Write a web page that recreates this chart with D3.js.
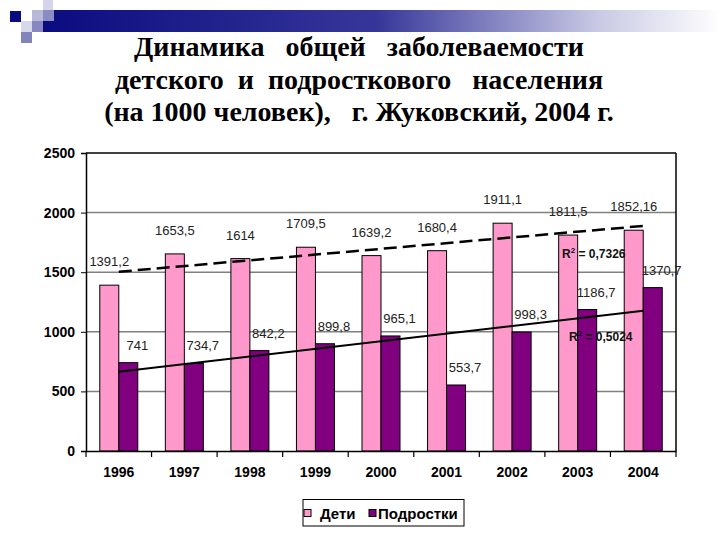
<!DOCTYPE html>
<html><head><meta charset="utf-8">
<script src="https://cdn.jsdelivr.net/npm/d3@7"></script>
<style>body{margin:0;background:#fff}svg{display:block}
.ttl{font-family:"Liberation Serif","Times New Roman",Times,serif;font-weight:bold;font-size:28px;white-space:pre}
</style>
</head><body>
<script>
const titleLines = ["Динамика   общей   заболеваемости", "детского  и  подросткового   населения", "(на 1000 человек),   г. Жуковский, 2004 г."];
const years = ["1996","1997","1998","1999","2000","2001","2002","2003","2004"];
const seriesNames = ["Дети","Подростки"];
const children = [1391.2,1653.5,1614,1709.5,1639.2,1680.4,1911.1,1811.5,1852.16];
const teens = [741,734.7,842.2,899.8,965.1,553.7,998.3,1186.7,1370.7];
const yTicks = [0,500,1000,1500,2000,2500];
const r2Labels = ["0,7326","0,5024"];
const colors = ["#FF99CC","#800080"];

const W=720,H=540;
const svg=d3.select("body").append("svg").attr("width",W).attr("height",H);

// decoration
const defs=svg.append("defs");
const grad=defs.append("linearGradient").attr("id","bar").attr("x1","0").attr("x2","1");
grad.append("stop").attr("offset","0").attr("stop-color","#0a0a80");
grad.append("stop").attr("offset","0.5").attr("stop-color","#36369a");
grad.append("stop").attr("offset","0.82").attr("stop-color","#c8c8e4");
grad.append("stop").attr("offset","1").attr("stop-color","#ffffff");
svg.append("rect").attr("x",33).attr("y",10).attr("width",687).attr("height",22).attr("fill","url(#bar)");
const sq=[[10,11,11,"#0a0a80"],[32,10,11,"#b8b8d8"],[43,0,10,"#d4d4ea"],[43,10,11,"#8c8cc4"],[21,21,11,"#d8d8ec"],[32,21,11,"#8888c0"],[21,32,11,"#8484bc"]];
sq.forEach(s=>svg.append("rect").attr("x",s[0]).attr("y",s[1]).attr("width",s[2]).attr("height",s[2]).attr("fill",s[3]));

// title
const tg=svg.append("g");
titleLines.forEach((t,i)=>tg.append("text").attr("class","ttl").attr("x",359).attr("y",56+i*32.5).attr("text-anchor","middle")
  .attr("font-family","Liberation Serif").attr("xml:space","preserve").text(t));

const L=86,R=676,T=153,B=451;
const x=d3.scaleBand().domain(years).range([L,R]);
const sub=d3.scaleBand().domain(seriesNames).range([-19,19]);
const y=d3.scaleLinear().domain([0,2500]).range([B,T]);

// gridlines
svg.append("g").selectAll("line").data(yTicks.filter(v=>v>0&&v<2500)).join("line")
  .attr("x1",L).attr("x2",R).attr("y1",d=>y(d)).attr("y2",d=>y(d)).attr("stroke","#808080").attr("stroke-width",1.5);
svg.append("line").attr("x1",L).attr("x2",R).attr("y1",T).attr("y2",T).attr("stroke","#000").attr("stroke-width",1.5);
svg.append("line").attr("x1",R).attr("x2",R).attr("y1",T).attr("y2",B).attr("stroke","#000").attr("stroke-width",1.5);

// bars
const data=[children,teens];
data.forEach((arr,si)=>{
  svg.append("g").selectAll("rect").data(arr).join("rect")
    .attr("x",(d,i)=>x(years[i])+x.bandwidth()/2+sub(seriesNames[si]))
    .attr("y",d=>y(d)).attr("width",sub.bandwidth()).attr("height",d=>B-y(d))
    .attr("fill",colors[si]).attr("stroke","#000").attr("stroke-width",1);
});

// axes
const lf="'Liberation Sans',Arial,sans-serif";
const yAxis=d3.axisLeft(y).tickValues(yTicks).tickSize(5).tickPadding(6).tickFormat(d3.format("d"));
const gy=svg.append("g").attr("transform",`translate(${L},0)`).call(yAxis);
gy.select(".domain").attr("stroke-width",1.5);
gy.selectAll("text").style("font-family",lf).style("font-weight","bold").style("font-size","14px").attr("fill","#000");
const xAxis=d3.axisBottom(x).tickSize(0).tickPadding(16);
const gx=svg.append("g").attr("transform",`translate(0,${B})`).call(xAxis);
gx.select(".domain").attr("stroke-width",1.5);
gx.selectAll("text").style("font-family",lf).style("font-weight","bold").style("font-size","14px").attr("fill","#000");
svg.append("g").selectAll("line").data(years.concat(["end"])).join("line")
  .attr("x1",(d,i)=>L+i*x.step()).attr("x2",(d,i)=>L+i*x.step()).attr("y1",B).attr("y2",B+6).attr("stroke","#000").attr("stroke-width",1.2);

// trend lines (least squares)
function fit(arr){const xs=arr.map((d,i)=>i+1);const mx=d3.mean(xs),my=d3.mean(arr);
  const sxy=d3.sum(arr,(d,i)=>(xs[i]-mx)*(d-my)),sxx=d3.sum(xs,v=>(v-mx)*(v-mx));const b=sxy/sxx;return i=>my+b*(i+1-mx);}
const line=d3.line().x(d=>x(d[0])+x.bandwidth()/2).y(d=>y(d[1]));
const f0=fit(children),f1=fit(teens);
svg.append("path").attr("d",line([[years[0],f0(0)],[years[8],f0(8)]])).attr("stroke","#000").attr("stroke-width",2.5).attr("stroke-dasharray","13,6").attr("fill","none");
svg.append("path").attr("d",line([[years[0],f1(0)],[years[8],f1(8)]])).attr("stroke","#000").attr("stroke-width",2).attr("fill","none");

// data labels
const fmt=v=>String(v).replace(".",",");
svg.append("g").selectAll("text").data(children).join("text")
  .attr("x",(d,i)=>x(years[i])+x.bandwidth()/2+sub("Дети")+sub.bandwidth()/2).attr("y",d=>y(d)-19)
  .attr("text-anchor","middle").style("font-family",lf).style("font-size","13px").attr("fill","#222").text(fmt);
svg.append("g").selectAll("text").data(teens).join("text")
  .attr("x",(d,i)=>x(years[i])+x.bandwidth()/2+sub("Подростки")+sub.bandwidth()/2+9).attr("y",d=>y(d)-13)
  .attr("text-anchor","middle").style("font-family",lf).style("font-size","13px").attr("fill","#222").text(fmt);

// R2 labels
[[562,258,r2Labels[0]],[569,341,r2Labels[1]]].forEach(r=>{
  const t=svg.append("text").attr("x",r[0]).attr("y",r[1]).style("font-family",lf).style("font-weight","bold").style("font-size","12px").attr("fill","#111");
  t.append("tspan").text("R");
  t.append("tspan").attr("dy",-5).style("font-size","8px").text("2");
  t.append("tspan").attr("dy",5).text(" = "+r[2]);
});

// legend
const lg=svg.append("g");
lg.append("rect").attr("x",303).attr("y",499.5).attr("width",161).attr("height",26.5).attr("fill","#fff").attr("stroke","#000").attr("stroke-width",1);
const lx=[304,369],tx=[320,378];
seriesNames.forEach((s,i)=>{
  lg.append("rect").attr("x",lx[i]).attr("y",509.5).attr("width",7).attr("height",7).attr("fill",colors[i]).attr("stroke","#000").attr("stroke-width",1);
  lg.append("text").attr("x",tx[i]).attr("y",518.5).style("font-family",lf).style("font-weight","bold").style("font-size","15px").text(s);
});
</script>
</body></html>
